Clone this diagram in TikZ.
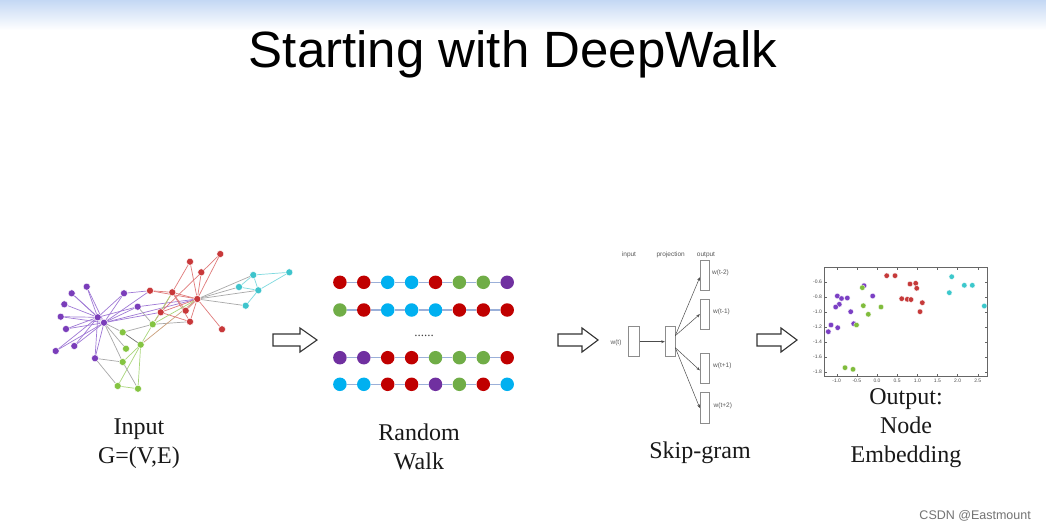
\documentclass[tikz,border=0pt]{standalone}
\usepackage{fontspec}
\setmainfont{Liberation Serif}
\newfontfamily\arialf{Liberation Sans}
\usetikzlibrary{arrows.meta,backgrounds}
\definecolor{gpur}{HTML}{7A3DBA}
\definecolor{gred}{HTML}{C8383A}
\definecolor{gcya}{HTML}{3EC4CC}
\definecolor{ggre}{HTML}{84C441}
\definecolor{epur}{HTML}{A07AD6}
\definecolor{ered}{HTML}{E07A7A}
\definecolor{ecya}{HTML}{7EDADF}
\definecolor{egre}{HTML}{A9D67A}
\definecolor{egry}{HTML}{A8A8A8}
\definecolor{rwR}{HTML}{C00000}
\definecolor{rwG}{HTML}{70AD47}
\definecolor{rwC}{HTML}{00B0F0}
\definecolor{rwP}{HTML}{7030A0}
\definecolor{rwL}{HTML}{9BB0D9}
\definecolor{spR}{HTML}{C63A3A}
\definecolor{spC}{HTML}{3CC8CC}
\definecolor{spP}{HTML}{7B3FC4}
\definecolor{spG}{HTML}{80BC3C}
\definecolor{topblue}{HTML}{C4D8F4}
\begin{document}
\begin{tikzpicture}[x=1pt,y=-1pt,
  gnode/.style={circle,inner sep=0pt,minimum size=7pt,draw=white,line width=0.4pt},
  gedge/.style={line width=0.7pt},
  rwnode/.style={circle,inner sep=0pt,minimum size=13.5pt},
  rwline/.style={draw=rwL,line width=1.4pt},
  sgbox/.style={draw=black!45,line width=0.5pt,inner sep=0pt,fill=white},
  sgtext/.style={font=\arialf\fontsize{6.5}{7}\selectfont,text=black!65,inner sep=0pt},
  sgarrow/.style={draw=black!70,line width=0.5pt,-{Stealth[length=3.5pt,width=2.8pt]}},
  spt/.style={circle,inner sep=0pt,minimum size=5.5pt,draw=white,line width=0.3pt},
  tick/.style={font=\arialf\fontsize{5}{6}\selectfont,text=black!70,inner sep=1pt},
  lab/.style={font=\fontsize{24}{29}\selectfont,align=center,text=black!90},
  hollowarrow/.style={draw=black!80,line width=1.1pt,fill=white,line join=miter}
]
\useasboundingbox (0,0) rectangle (1046,532);
\begin{pgfonlayer}{background}
\fill[white] (0,0) rectangle (1046,532);
\shade[top color=topblue,bottom color=white] (0,0) rectangle (1046,30);
\end{pgfonlayer}

% title
\node[font=\arialf\fontsize{51}{60}\selectfont,anchor=base,inner sep=0pt] (title) at (513,68) {Starting with DeepWalk};

% ---------------- graph ----------------
% purple
\node[gnode,fill=gpur] (P1) at (86.7,286.7) {};
\node[gnode,fill=gpur] (P2) at (71.7,293.3) {};
\node[gnode,fill=gpur] (P3) at (64.3,304.3) {};
\node[gnode,fill=gpur] (P4) at (60.7,316.7) {};
\node[gnode,fill=gpur] (P5) at (66,329) {};
\node[gnode,fill=gpur] (P6) at (55.7,351) {};
\node[gnode,fill=gpur] (P7) at (74.3,346) {};
\node[gnode,fill=gpur] (P8) at (95,358.3) {};
\node[gnode,fill=gpur] (P9) at (124,293.3) {};
\node[gnode,fill=gpur] (P10) at (137.7,306.7) {};
\node[gnode,fill=gpur] (PA) at (97.7,317.3) {};
\node[gnode,fill=gpur] (PB) at (104,322.7) {};
% red
\node[gnode,fill=gred] (R1) at (220.3,254) {};
\node[gnode,fill=gred] (R2) at (190,261.7) {};
\node[gnode,fill=gred] (R3) at (201.3,272.3) {};
\node[gnode,fill=gred] (R4) at (150,290.7) {};
\node[gnode,fill=gred] (R5) at (172.3,292.3) {};
\node[gnode,fill=gred] (RH) at (197.3,299) {};
\node[gnode,fill=gred] (R6) at (160.7,312.3) {};
\node[gnode,fill=gred] (R7) at (185.7,310.7) {};
\node[gnode,fill=gred] (R8) at (190,321.7) {};
\node[gnode,fill=gred] (R9) at (222,329.3) {};
% cyan
\node[gnode,fill=gcya] (C1) at (253.3,275) {};
\node[gnode,fill=gcya] (C2) at (289.3,272.3) {};
\node[gnode,fill=gcya] (C3) at (239,287) {};
\node[gnode,fill=gcya] (C4) at (258.3,290.3) {};
\node[gnode,fill=gcya] (C5) at (245.7,305.7) {};
% green
\node[gnode,fill=ggre] (G1) at (152.7,324.3) {};
\node[gnode,fill=ggre] (G2) at (122.7,332.3) {};
\node[gnode,fill=ggre] (G3) at (140.7,344.7) {};
\node[gnode,fill=ggre] (G4) at (126,348.7) {};
\node[gnode,fill=ggre] (G5) at (122.7,362) {};
\node[gnode,fill=ggre] (G6) at (117.7,386) {};
\node[gnode,fill=ggre] (G7) at (138,388.7) {};

\begin{pgfonlayer}{background}
\foreach \t in {P1,P2,P3,P4,P5,P6,P7,P8,P9,P10,PB}
  \draw[gedge,epur] (PA) -- (\t);
\foreach \t in {P1,P2,P4,P5,P6,P7,P8,P9,P10,R4,RH,R6}
  \draw[gedge,epur] (PB) -- (\t);
\draw[gedge,epur] (P9) -- (R4);
\draw[gedge,epur] (P10) -- (RH);
\draw[gedge,egry] (PB) -- (G2);
\draw[gedge,egry] (PB) -- (G4);
\draw[gedge,egry] (PB) -- (G5);
\draw[gedge,egry] (P8) -- (G5);
\draw[gedge,egry] (P8) -- (G6);
\draw[gedge,egry] (P10) -- (G1);
\foreach \t in {R1,R2,R3,R4,R5,R6,R7,R8,R9}
  \draw[gedge,ered] (RH) -- (\t);
\draw[gedge,ered] (R5) -- (R2);
\draw[gedge,ered] (R5) -- (R6);
\draw[gedge,ered] (R5) -- (R7);
\draw[gedge,ered] (R5) -- (R8);
\draw[gedge,ered] (R4) -- (R5);
\draw[gedge,ered] (R6) -- (R8);
\draw[gedge,ered] (R1) -- (R6);
\draw[gedge,ered] (R6) -- (G1);
\draw[gedge,egre] (G1) -- (RH);
\draw[gedge,egre] (G1) -- (R5);
\draw[gedge,egry] (G1) -- (R8);
\draw[gedge,ered!60!egre] (G3) -- (RH);
\draw[gedge,egre] (G1) -- (G3);
\draw[gedge,egry] (G1) -- (G2);
\draw[gedge,black!55] (G2) -- (G3);
\draw[gedge,egre] (G3) -- (G6);
\draw[gedge,egre] (G3) -- (G7);
\draw[gedge,egre] (G6) -- (G7);
\draw[gedge,egry] (G5) -- (G7);
\draw[gedge,egre] (G3) -- (G5);
\foreach \t in {C1,C3,C4,C5}
  \draw[gedge,egry] (RH) -- (\t);
\draw[gedge,ecya] (C1) -- (C2);
\draw[gedge,ecya] (C2) -- (C4);
\draw[gedge,ecya] (C1) -- (C3);
\draw[gedge,ecya] (C1) -- (C4);
\draw[gedge,ecya] (C4) -- (C5);
\draw[gedge,ecya] (C3) -- (C4);
\end{pgfonlayer}

% ---------------- hollow arrows ----------------
\draw[hollowarrow] (273,334) -- (300,334) -- (300,328) -- (317,340) -- (300,352) -- (300,346) -- (273,346) -- cycle;
\draw[hollowarrow] (558,334) -- (582,334) -- (582,328) -- (598,340) -- (582,352) -- (582,346) -- (558,346) -- cycle;
\draw[hollowarrow] (757,334) -- (781,334) -- (781,328) -- (797,340) -- (781,352) -- (781,346) -- (757,346) -- cycle;

% ---------------- random walk ----------------
\foreach \c [count=\i] in {rwR,rwR,rwC,rwC,rwR,rwG,rwG,rwP}
  \node[rwnode,fill=\c] (a\i) at ({316+23.9*\i},282.3) {};
\foreach \c [count=\i] in {rwG,rwR,rwC,rwC,rwC,rwR,rwR,rwR}
  \node[rwnode,fill=\c] (b\i) at ({316+23.9*\i},310) {};
\foreach \c [count=\i] in {rwP,rwP,rwR,rwR,rwG,rwG,rwG,rwR}
  \node[rwnode,fill=\c] (c\i) at ({316+23.9*\i},357.7) {};
\foreach \c [count=\i] in {rwC,rwC,rwR,rwR,rwP,rwG,rwR,rwC}
  \node[rwnode,fill=\c] (d\i) at ({316+23.9*\i},384.3) {};
\foreach \i in {1,...,7}{
  \pgfmathtruncatemacro\j{\i+1}
  \draw[rwline] (a\i) -- (a\j);
  \draw[rwline] (b\i) -- (b\j);
  \draw[rwline] (c\i) -- (c\j);
  \draw[rwline] (d\i) -- (d\j);
}
\node[font=\fontsize{13}{14}\selectfont,anchor=base,inner sep=0pt,text=black!75] (dots) at (424,336) {......};

% ---------------- skip-gram ----------------
\node[sgtext] (tin) at (629,255) {input};
\node[sgtext] (tproj) at (670.7,255) {projection};
\node[sgtext] (tout) at (706,255) {output};
\node[sgbox,minimum width=11pt,minimum height=30pt] (in) at (633.8,341.7) {};
\node[sgbox,minimum width=10pt,minimum height=30pt] (proj) at (670,341.7) {};
\node[sgbox,minimum width=9.3pt,minimum height=30.7pt] (o1) at (704.7,275.3) {};
\node[sgbox,minimum width=9.3pt,minimum height=30.7pt] (o2) at (704.7,314.2) {};
\node[sgbox,minimum width=9.3pt,minimum height=30.7pt] (o3) at (704.7,368.3) {};
\node[sgbox,minimum width=9.3pt,minimum height=30.7pt] (o4) at (704.7,408) {};
\node[sgtext] (lwt) at (616,343.3) {w(t)};
\node[sgtext,anchor=west] (l1) at (712,273) {w(t-2)};
\node[sgtext,anchor=west] (l2) at (713,311.7) {w(t-1)};
\node[sgtext,anchor=west] (l3) at (713,365.7) {w(t+1)};
\node[sgtext,anchor=west] (l4) at (713.5,405.7) {w(t+2)};
\draw[sgarrow] (in.east) -- (proj.west);
\draw[sgarrow] ([yshift=6pt]proj.east) -- ([yshift=-2pt]o1.west);
\draw[sgarrow] ([yshift=6pt]proj.east) -- (o2.west);
\draw[sgarrow] ([yshift=-6pt]proj.east) -- ([yshift=-2pt]o3.west);
\draw[sgarrow] ([yshift=-6pt]proj.east) -- (o4.west);

% ---------------- scatter plot ----------------
\draw[black!60,line width=0.5pt] (824.3,267.7) rectangle (987.7,376.7);
\foreach \v/\yy in {-0.6/281.7,-0.8/296.7,-1.0/311.7,-1.2/326.7,-1.4/341.7,-1.6/356.7,-1.8/371.7}{
  \node[tick,anchor=east] at (823,\yy) {\v};
  \draw[black!60,line width=0.4pt] (824.3,\yy) -- (827,\yy);
  \draw[black!60,line width=0.4pt] (987.7,\yy) -- (985,\yy);
}
\foreach \v in {-1.0,-0.5,0.0,0.5,1.0,1.5,2.0,2.5}{
  \pgfmathsetmacro\xx{877+40.3*\v}
  \node[tick,anchor=north] at (\xx,378) {\v};
  \draw[black!60,line width=0.4pt] (\xx,376.7) -- (\xx,374);
  \draw[black!60,line width=0.4pt] (\xx,267.7) -- (\xx,270.4);
}
% red
\node[spt,fill=spR] (sr1) at (886.7,275.7) {};
\node[spt,fill=spR] (sr2) at (895,275.7) {};
\node[spt,fill=spR] (sr3) at (910,284) {};
\node[spt,fill=spR] (sr4) at (915.7,283.3) {};
\node[spt,fill=spR] (sr5) at (916.7,288.3) {};
\node[spt,fill=spR] (sr6) at (901.7,298.7) {};
\node[spt,fill=spR] (sr7) at (907.3,299.3) {};
\node[spt,fill=spR] (sr8) at (911,299.6) {};
\node[spt,fill=spR] (sr9) at (922.3,302.7) {};
\node[spt,fill=spR] (sr10) at (920,311.7) {};
% cyan
\node[spt,fill=spC] (sc1) at (951.7,276.7) {};
\node[spt,fill=spC] (sc2) at (964.3,285.3) {};
\node[spt,fill=spC] (sc3) at (972.3,285.3) {};
\node[spt,fill=spC] (sc4) at (949.3,292.7) {};
\node[spt,fill=spC] (sc5) at (984.3,306) {};
% purple
\node[spt,fill=spP] (sp1) at (864,285.7) {};
\node[spt,fill=spP] (sp2) at (837.3,296) {};
\node[spt,fill=spP] (sp3) at (841.5,298.5) {};
\node[spt,fill=spP] (sp4) at (847.3,298) {};
\node[spt,fill=spP] (sp5) at (872.7,296) {};
\node[spt,fill=spP] (sp6) at (839.3,304.3) {};
\node[spt,fill=spP] (sp7) at (835.7,307) {};
\node[spt,fill=spP] (sp8) at (850.7,311.7) {};
\node[spt,fill=spP] (sp9) at (831,325) {};
\node[spt,fill=spP] (sp10) at (837.7,327.7) {};
\node[spt,fill=spP] (sp11) at (828.3,331.7) {};
\node[spt,fill=spP] (sp12) at (853.7,323.7) {};
% green
\node[spt,fill=spG] (sg1) at (862.3,287.7) {};
\node[spt,fill=spG] (sg2) at (863.3,305.7) {};
\node[spt,fill=spG] (sg3) at (881,307) {};
\node[spt,fill=spG] (sg4) at (868.3,314.3) {};
\node[spt,fill=spG] (sg5) at (856.5,325) {};
\node[spt,fill=spG] (sg6) at (845,367.7) {};
\node[spt,fill=spG] (sg7) at (853,369.3) {};

% ---------------- labels ----------------
\node[lab] (linput) at (139,444) {Input\\G=(V,E)};
\node[lab] (lrw) at (419,447) {Random\\Walk};
\node[lab] (lsg) at (700,453) {Skip-gram};
\node[lab] (lemb) at (906,428) {Output:\\Node\\Embedding};

\node[font=\arialf\fontsize{12.5}{14}\selectfont,text=black!55,anchor=east,inner sep=0pt] (wm) at (1031,516) {CSDN @Eastmount};
\end{tikzpicture}
\end{document}
